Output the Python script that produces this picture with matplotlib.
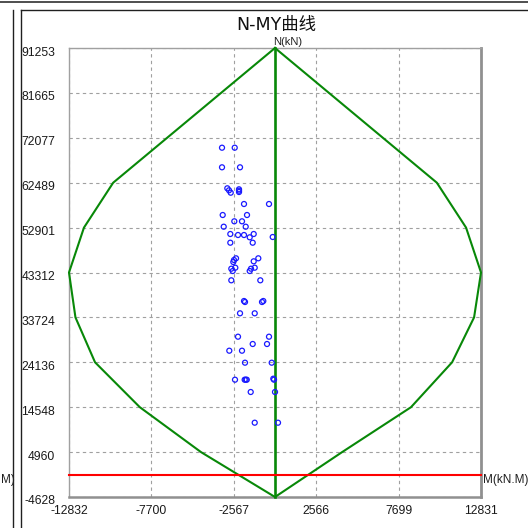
import matplotlib
matplotlib.use("Agg")
import matplotlib.pyplot as plt
import matplotlib.transforms as mtransforms
from matplotlib.lines import Line2D

# Axis ticks (kN.M for moment, kN for axial force)
m_ticks = [-12832, -7700, -2567, 2566, 7699, 12831]
n_ticks = [-4628, 4960, 14548, 24136, 33724, 43312, 52901, 62489, 72077, 81665, 91253]
m_lim = (-12832, 12831)
n_lim = (-4628, 91253)

# Interaction envelope (N-MY capacity curve)
env_m = [0, -10080, -11900, -12832, -12430, -11210, -8420, -4610, 0,
         4180, 8470, 11030, 12400, 12831, 11900, 10080, 0]
env_n = [91253, 62489, 52901, 43312, 33724, 24136, 14548, 4960, -4628,
         4960, 14548, 24136, 33724, 43312, 52901, 62489, 91253]

# Load combinations (M, N)
load_m = [-3301, -2510, -3301, -2180, -2971, -2865, -2759, -2242, -2242, -2242,
          -1931, -374, -3258, -1744, -2535, -2056, -1825, -3195, -2784, -2305,
          -1931, -1576, -1327, -143, -2784, -1389, -2429, -2554, -2597, -1040,
          -1327, -2473, -2722, -2635, -1264, -1495, -1576, -2722, -916, -1931,
          -1869, -810, -729, -2180, -1264, -2305, -374, -1389, -498, -2847,
          -2056, -1869, -206, -2492, -1825, -1890, -1760, -62, -106, -1514,
          0, -1264, 187]
load_n = [69962, 69962, 65776, 65776, 61292, 60865, 60352, 61078, 60779, 60502,
          57939, 57939, 55590, 55590, 54245, 54245, 53092, 53092, 51533, 51319,
          51319, 50828, 51533, 50892, 49675, 49675, 46344, 45981, 45554, 46344,
          45703, 44337, 44123, 43632, 44337, 44123, 43632, 41646, 41646, 37226,
          37012, 37012, 37226, 34599, 34599, 29603, 29603, 28044, 28044, 26613,
          26613, 24051, 24051, 20420, 20420, 20420, 20420, 20420, 20634, 17794,
          17794, 11238, 11238]

W = H = 528
fig = plt.figure(figsize=(W / 100, H / 100), dpi=100)
fig.patch.set_facecolor("white")

def px(x, y):
    return x / W, 1 - y / H

# Panel frame lines
fig.add_artist(Line2D([0, 1], [1 - 1.7 / H] * 2, color="#303030", lw=1.2))
fig.add_artist(Line2D([12.7 / W] * 2, [0, 1 - 9.5 / H], color="#202020", lw=1.0))
fig.add_artist(Line2D([20.7 / W] * 2, [0, 1 - 9.5 / H], color="#202020", lw=1.0))
fig.add_artist(Line2D([20.7 / W, 1], [1 - 9.5 / H] * 2, color="#202020", lw=1.0))

left, top, right, bottom = 69, 48, 481, 497
ax = fig.add_axes([left / W, 1 - bottom / H, (right - left) / W, (bottom - top) / H])
ax.set_xlim(*m_lim)
ax.set_ylim(*n_lim)

for sp in ax.spines.values():
    sp.set_color("#a0a0a0")
    sp.set_linewidth(1.0)
ax.spines["right"].set_linewidth(2.0)
ax.spines["right"].set_color("#909090")
ax.spines["bottom"].set_linewidth(1.8)
ax.spines["bottom"].set_color("#909090")

ax.set_xticks(m_ticks)
ax.set_xticklabels([str(v) for v in m_ticks])
ax.set_yticks(n_ticks)
ax.set_yticklabels([str(v) for v in n_ticks])
ax.tick_params(length=0, labelsize=8.7, colors="#1a1a1a", pad=6)
ax.tick_params(axis="y", pad=10)
for lab in ax.get_xticklabels() + ax.get_yticklabels():
    lab.set_fontfamily("Liberation Sans")
off = mtransforms.ScaledTranslation(0, -3 / 100, fig.dpi_scale_trans)
for lab in ax.get_yticklabels():
    lab.set_transform(lab.get_transform() + off)
    lab.set_horizontalalignment("right")

ax.grid(True, color="#a0a0a0", linestyle=(0, (3, 3)), linewidth=0.8)
ax.set_axisbelow(True)

# Envelope, N axis and zero-axial-force line
ax.plot(env_m, env_n, color="#088808", lw=1.5, zorder=3, clip_on=False)
ax.plot([0, 0], list(n_lim), color="#088808", lw=1.9, zorder=3, clip_on=False)
ax.plot(list(m_lim), [0, 0], color="#ff0000", lw=1.5, zorder=3, clip_on=False)

ax.scatter(load_m, load_n, s=13, facecolors="none", edgecolors="#1a1aff",
           linewidths=0.9, zorder=4)

# Labels
fig.text(*px(276.7, 25), "N-MY曲线", ha="center", va="center", fontsize=12.5,
         family=["DejaVu Sans", "Noto Sans CJK SC"], color="#101010")
fig.text(*px(273, 42), "N(kN)", ha="left", va="center", fontsize=8,
         family="Liberation Sans", color="#202020")
fig.text(*px(482.5, 480.5), "M(kN.M)", ha="left", va="center", fontsize=8.5,
         family="Liberation Sans", color="#202020")
fig.text(*px(0.5, 480.5), "M)", ha="left", va="center", fontsize=8.5,
         family="Liberation Sans", color="#202020")

fig.savefig("out.png", dpi=100, facecolor="white")
